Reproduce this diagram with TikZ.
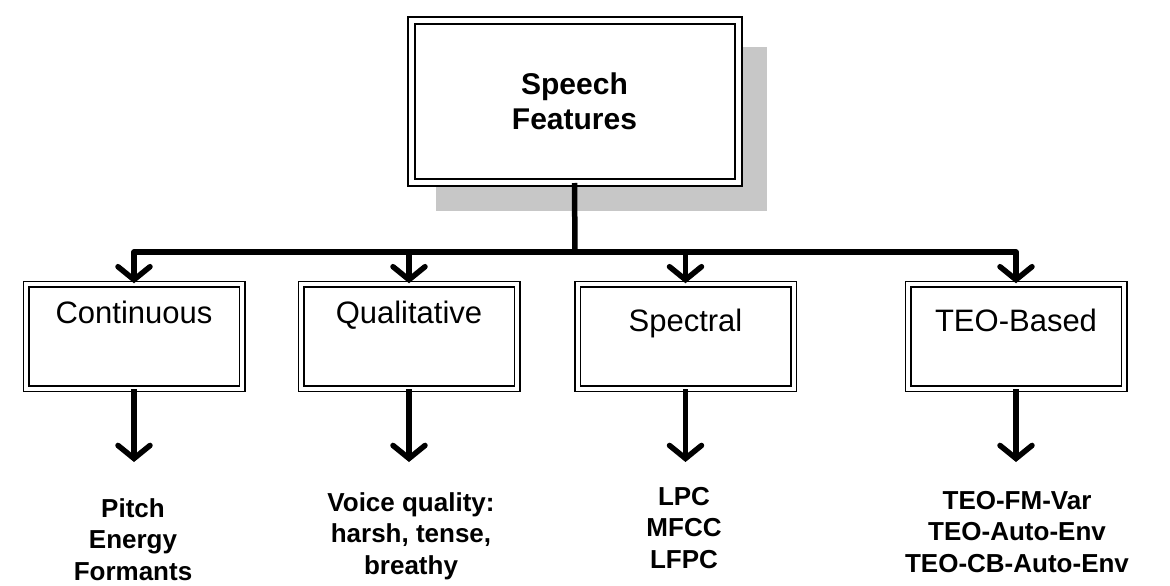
\documentclass[tikz,border=0pt]{standalone}
\usepackage{fontspec}
\setmainfont{Liberation Sans}
\usetikzlibrary{arrows.meta, positioning, backgrounds}

\begin{document}
\begin{tikzpicture}[
		x=1pt, y=-1pt,
		% Double-ruled boxes
		rootbox/.style={draw, double, line width=2pt, double distance=5pt, fill=white,
			minimum width=327pt, minimum height=161pt, inner sep=0pt, align=center,
			font=\fontsize{30}{35}\selectfont\bfseries},
		catbox/.style={draw, double, line width=1.5pt, double distance=4pt, fill=white,
			minimum width=216pt, inner sep=0pt, text height=39pt, text depth=65.5pt,
			font=\fontsize{31}{37}\selectfont},
		lowlabel/.style={text height=47pt, text depth=57.5pt},
		% Shadow behind the root box
		boxshadow/.style={fill=black!22},
		% Connectors
		link/.style={line width=5.5pt, line join=round},
		arrow/.style={link, -{Straight Barb[length=13pt, width=32pt, line cap=round]}},
		% Feature lists
		featlist/.style={anchor=north, inner sep=0pt, align=center,
			font=\fontsize{26}{31.5}\selectfont\bfseries}
		]
		\useasboundingbox (0,0) rectangle (1170,586);

		% root
		\node[rootbox] (speech) at (574.5,101.5) {Speech\\Features};
		\begin{scope}[on background layer]
			\fill[boxshadow] ([xshift=26pt,yshift=-27pt]speech.north west) rectangle ([xshift=28pt,yshift=-28pt]speech.south east);
		\end{scope}

		% categories
		\node[catbox] (cont) at (134,336.25) {Continuous};
		\node[catbox] (qual) at (409,336.25) {Qualitative};
		\node[catbox, lowlabel] (spec) at (685.5,336.25) {Spectral};
		\node[catbox, lowlabel] (teo) at (1016,336.25) {TEO-Based};

		% tree connectors
		\coordinate (bar) at (575,252);
		\draw[link] (speech.south) -- (bar);
		\foreach \cat in {cont, qual, spec, teo}
			\draw[arrow] (bar) -| (\cat.north);

		% features
		\coordinate (cont-end) at (134,462);
		\coordinate (qual-end) at (409,462);
		\coordinate (spec-end) at (685.5,462);
		\coordinate (teo-end) at (1016,462);
		\foreach \cat in {cont, qual, spec, teo}
			\draw[arrow] (\cat.south) -- (\cat-end);

		\node[featlist] (cont-list) at (133,498) {Pitch\\Energy\\Formants};
		\node[featlist] (qual-list) at (411,492) {Voice quality:\\harsh, tense,\\breathy};
		\node[featlist] (spec-list) at (684,487) {LPC\\MFCC\\LFPC};
		\node[featlist] (teo-list) at (1017,491) {TEO-FM-Var\\TEO-Auto-Env\\TEO-CB-Auto-Env};
	\end{tikzpicture}
\end{document}
